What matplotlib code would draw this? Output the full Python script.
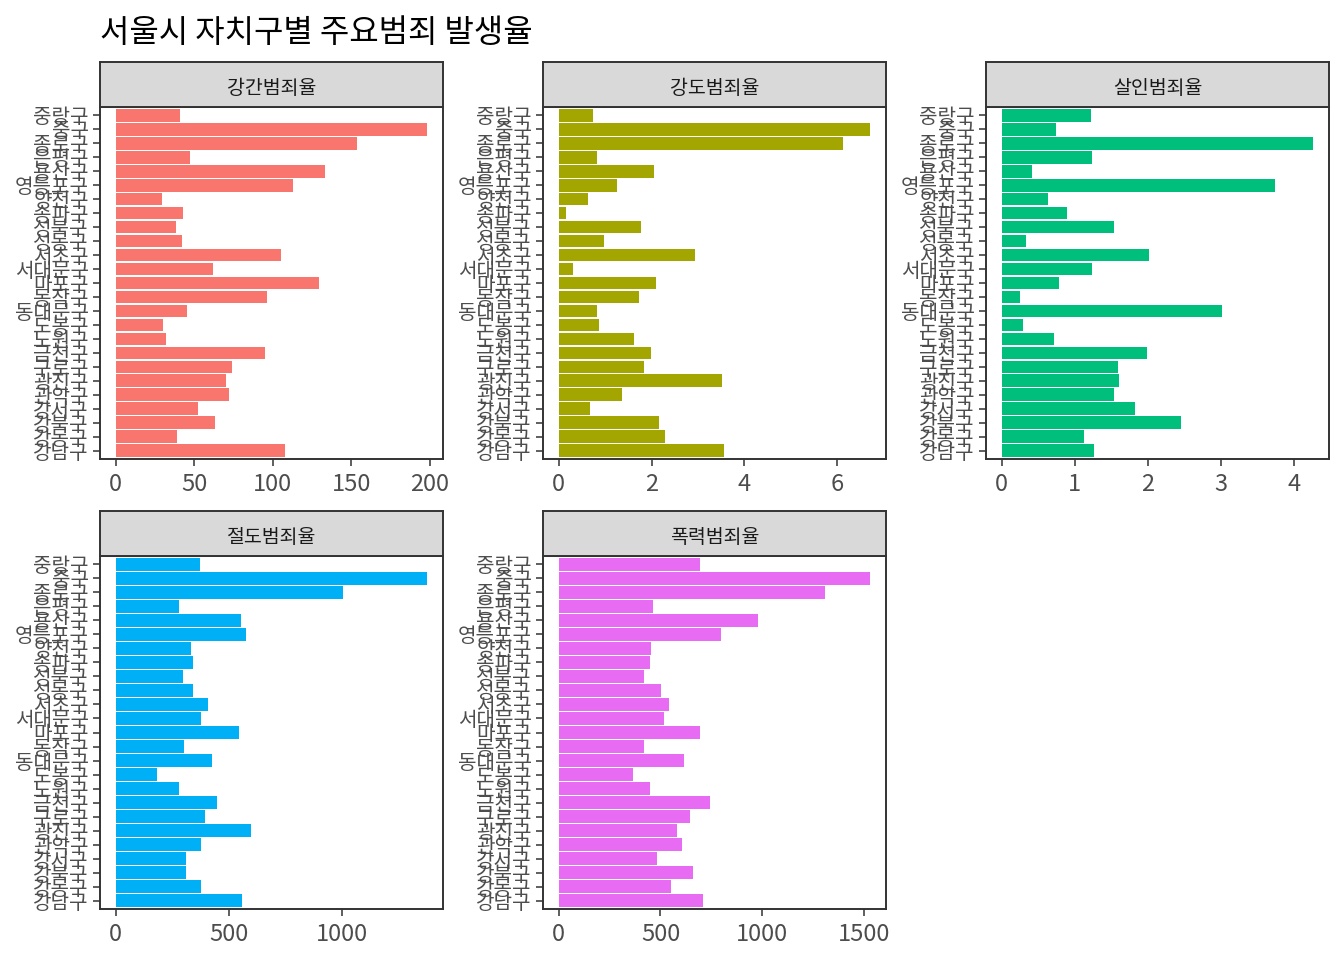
import matplotlib
matplotlib.use('Agg')
import matplotlib.pyplot as plt
import numpy as np

plt.rcParams['font.family'] = ['Noto Sans CJK KR', 'DejaVu Sans']

# 아래쪽(1)부터 위쪽(25) 순서
districts = ['강남구', '강동구', '강북구', '강서구', '관악구', '광진구', '구로구', '금천구',
             '노원구', '도봉구', '동대문구', '동작구', '마포구', '서대문구', '서초구', '성동구',
             '성북구', '송파구', '양천구', '영등포구', '용산구', '은평구', '종로구', '중구', '중랑구']

rape = [108.1, 38.8, 63.6, 52.2, 72.5, 70.0, 74.4, 94.8, 32.4, 29.9, 45.2, 96.7, 129.8,
        62.3, 105.6, 42.0, 38.2, 42.6, 29.3, 113.2, 133.6, 47.1, 153.9, 198.5, 41.3]
robbery = [3.57, 2.28, 2.15, 0.67, 1.36, 3.51, 1.83, 1.98, 1.62, 0.87, 0.82, 1.73, 2.09,
           0.31, 2.93, 0.97, 1.77, 0.16, 0.63, 1.25, 2.05, 0.82, 6.11, 6.71, 0.74]
murder = [1.26, 1.13, 2.45, 1.82, 1.54, 1.61, 1.59, 1.98, 0.72, 0.29, 3.01, 0.25, 0.78,
          1.23, 2.02, 0.33, 1.54, 0.90, 0.63, 3.73, 0.41, 1.23, 4.26, 0.75, 1.22]
theft = [560, 375, 309, 313, 379, 600, 393, 450, 278, 181, 424, 300, 543,
         379, 406, 344, 296, 340, 335, 574, 552, 282, 1006, 1377, 371]
violence = [708, 551, 659, 482, 605, 580, 644, 742, 448, 364, 614, 418, 693,
            516, 541, 502, 418, 448, 453, 796, 977, 462, 1306, 1531, 693]

panel_names = ['강간범죄율', '강도범죄율', '살인범죄율', '절도범죄율', '폭력범죄율']
panel_values = [rape, robbery, murder, theft, violence]
panel_ticks = [[0, 50, 100, 150, 200], [0, 2, 4, 6], [0, 1, 2, 3, 4],
               [0, 500, 1000], [0, 500, 1000, 1500]]
colors = ['#F8766D', '#A3A500', '#00BF7D', '#00B0F6', '#E76BF3']

W, H = 1344, 960
fig = plt.figure(figsize=(W / 100, H / 100), dpi=100)

def px_axes(left, top, right, bottom):
    return fig.add_axes([left / W, (H - bottom) / H, (right - left) / W, (bottom - top) / H])

col_left = [100, 543, 986]
panel_w = 343
panel_top = [107, 556]
panel_bottom = [459, 909]
strip_top = [62, 511]

y = np.arange(1, len(districts) + 1)

for i, (name, vals) in enumerate(zip(panel_names, panel_values)):
    r, c = divmod(i, 3)
    l = col_left[c]
    ax = px_axes(l, panel_top[r], l + panel_w, panel_bottom[r])
    ax.barh(y, vals, height=0.9, color=colors[i])
    vmax = max(vals)
    ax.set_xlim(-0.05 * vmax, 1.05 * vmax)
    ax.set_ylim(0.4, len(districts) + 0.6)
    ax.set_yticks(y)
    ax.set_yticklabels(districts, fontsize=14.5, color='#4D4D4D')
    ax.set_xticks(panel_ticks[i])
    ax.set_xticklabels([str(t) for t in panel_ticks[i]], fontsize=17, color='#4D4D4D')
    ax.tick_params(length=5, width=1.1, color='#333333')
    ax.tick_params(axis='x', pad=5)
    ax.tick_params(axis='y', pad=3)
    for s in ax.spines.values():
        s.set_color('#333333')
        s.set_linewidth(1.4)

    sax = px_axes(l, strip_top[r], l + panel_w, panel_top[r])
    sax.set_facecolor('#D9D9D9')
    sax.set_xticks([])
    sax.set_yticks([])
    for s in sax.spines.values():
        s.set_color('#333333')
        s.set_linewidth(1.4)
    sax.text(0.5, 0.42, name, ha='center', va='center', fontsize=14,
             color='#1A1A1A', transform=sax.transAxes)

fig.text(100 / W, 1 - 33 / H, '서울시 자치구별 주요범죄 발생율', fontsize=23,
         color='black', ha='left', va='center')

fig.savefig('out.png', dpi=100, facecolor='white')
